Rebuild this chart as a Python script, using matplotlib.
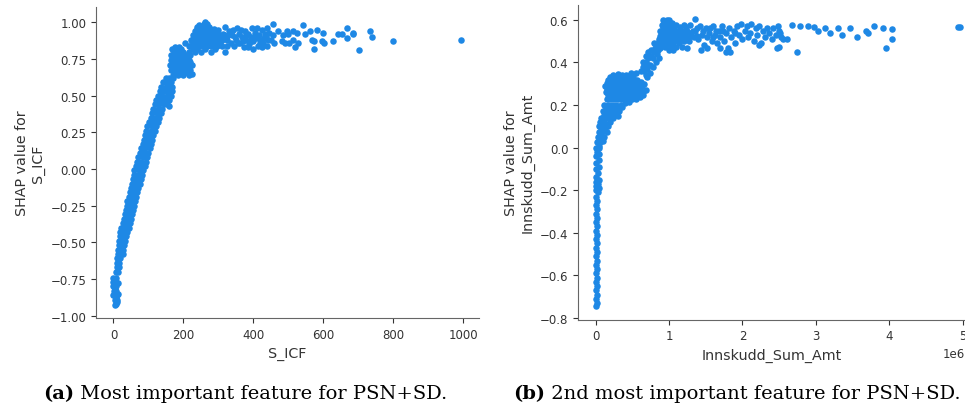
import numpy as np
from matplotlib import pyplot as plt

# S_ICF dependence points (x = S_ICF, y = SHAP value)
icf_bottom = [(0,-0.74),(6,-0.74),(0,-0.77),(7,-0.77),(1,-0.80),(8,-0.80),(1,-0.83),(8,-0.83),
              (2,-0.86),(9,-0.86),(3,-0.89),(10,-0.89),(6,-0.92),(10,-0.91),(12,-0.85),(12,-0.78),
              (-2,-0.80),(-2,-0.86),(4,-0.93),(4,-0.76),(5,-0.82),(6,-0.88)]
icf_rise = [(8,-0.70),(14,-0.70),(9,-0.67),(16,-0.67),(10,-0.64),(17,-0.64),(11,-0.61),(19,-0.61),
            (12,-0.58),(20,-0.58),(26,-0.58),(13,-0.55),(21,-0.55),(28,-0.55),(15,-0.52),(23,-0.52),(30,-0.52),
            (16,-0.49),(25,-0.49),(33,-0.49),(18,-0.46),(27,-0.46),(36,-0.46),(19,-0.43),(29,-0.43),(39,-0.43),
            (22,-0.40),(32,-0.40),(43,-0.40),(26,-0.37),(35,-0.37),(46,-0.37),(30,-0.34),(39,-0.34),(49,-0.34),
            (33,-0.31),(42,-0.31),(52,-0.31),(36,-0.28),(45,-0.28),(55,-0.28),(38,-0.25),(48,-0.25),(58,-0.25),
            (40,-0.22),(50,-0.22),(62,-0.22),(43,-0.19),(53,-0.19),(64,-0.19),(46,-0.16),(56,-0.16),(67,-0.16),
            (50,-0.13),(60,-0.13),(71,-0.13),(53,-0.10),(63,-0.10),(75,-0.10),(56,-0.07),(66,-0.07),(78,-0.07),
            (58,-0.04),(69,-0.04),(81,-0.04),(60,-0.01),(72,-0.01),(85,-0.01),(64,0.02),(76,0.02),(89,0.02),
            (68,0.05),(80,0.05),(92,0.05),(71,0.08),(83,0.08),(95,0.08),(75,0.11),(87,0.11),(99,0.11),
            (79,0.14),(91,0.14),(103,0.14),(83,0.17),(95,0.17),(107,0.17),(87,0.20),(99,0.20),(110,0.20),
            (90,0.23),(102,0.23),(114,0.23),(93,0.26),(106,0.26),(118,0.26),(97,0.29),(110,0.29),(121,0.29),
            (101,0.32),(114,0.32),(126,0.32),(106,0.35),(119,0.35),(131,0.35),(111,0.38),(123,0.38),(135,0.38),
            (114,0.41),(127,0.41),(140,0.41),(118,0.44),(131,0.44),(145,0.44),(154,0.44),
            (122,0.47),(135,0.47),(148,0.47),(160,0.47),(127,0.50),(139,0.50),(152,0.50),(163,0.50),
            (132,0.53),(144,0.53),(156,0.53),(166,0.53),(137,0.56),(149,0.56),(160,0.56),(168,0.56),
            (142,0.59),(153,0.59),(163,0.59),(150,0.62),(160,0.62),(170,0.62),(160,0.43)]
icf_shoulder = [(170,0.64),(185,0.64),(200,0.64),(215,0.64),(225,0.65),
                (165,0.675),(178,0.675),(192,0.675),(206,0.675),(220,0.675),
                (162,0.71),(175,0.71),(188,0.71),(200,0.71),(212,0.71),(224,0.71),
                (163,0.745),(176,0.745),(189,0.745),(202,0.745),(215,0.745),
                (165,0.78),(178,0.78),(190,0.78),(204,0.78),(218,0.78),
                (168,0.815),(180,0.815),(192,0.815),(205,0.86),(215,0.84),(222,0.88),
                (177,0.66),(193,0.66),(208,0.66),(170,0.695),(184,0.695),(198,0.695),(212,0.695),
                (169,0.73),(182,0.73),(195,0.73),(208,0.73),(220,0.73),(171,0.765),(184,0.765),
                (197,0.765),(210,0.765),(172,0.80),(186,0.80),(200,0.80),(175,0.83),(188,0.83)]
icf_plateau = [(215,0.80),(232,0.80),(250,0.80),
               (220,0.84),(232,0.84),(244,0.84),(256,0.84),(268,0.84),(280,0.84),(295,0.84),(310,0.84),
               (225,0.88),(237,0.88),(249,0.88),(261,0.88),(273,0.88),(285,0.88),(297,0.88),(310,0.88),(325,0.88),
               (228,0.91),(240,0.91),(252,0.91),(264,0.91),(276,0.91),(288,0.91),(300,0.91),(315,0.91),
               (232,0.94),(244,0.94),(256,0.94),(268,0.94),(280,0.94),(292,0.94),
               (238,0.97),(250,0.97),(262,0.97),(274,0.97),(262,1.00),(258,0.99),(245,0.98),
               (226,0.82),(238,0.82),(262,0.82),(226,0.86),(238,0.86),(250,0.86),(262,0.86),(274,0.86),
               (286,0.86),(300,0.86),(231,0.895),(243,0.895),(255,0.895),(267,0.895),(279,0.895),
               (291,0.895),(304,0.895),(236,0.925),(248,0.925),(260,0.925),(272,0.925),(284,0.925),
               (296,0.925),(240,0.955),(252,0.955),(264,0.955),(276,0.955),(288,0.955),(268,0.985)]
icf_spread = [(305,0.86),(312,0.92),(318,0.80),(322,0.89),(330,0.94),(335,0.86),(340,0.91),(345,0.84),
              (350,0.88),(352,0.96),(358,0.92),(362,0.86),(368,0.90),(372,0.83),(376,0.94),(380,0.88),
              (384,0.92),(388,0.85),(392,0.90),(396,0.96),(400,0.87),(404,0.93),(408,0.89),(412,0.84),
              (416,0.91),(420,0.88),(424,0.95),(428,0.86),(432,0.92),(436,0.90),(440,0.84),(445,0.93),
              (450,0.88),(455,0.99),(460,0.86),(325,0.84),(342,0.95),(365,0.95),(385,0.83),(398,0.82),
              (410,0.96),(426,0.83),(438,0.96),(318,0.97),(300,0.95),(290,0.82),(280,0.80),
              (328,0.91),(347,0.90),(355,0.86),(370,0.87),(378,0.91),(394,0.87),(402,0.90),(418,0.86),
              (430,0.89),(442,0.88)]
icf_tail = [(469,0.94),(481,0.87),(500,0.92),(503,0.86),(514,0.88),(519,0.83),(526,0.93),(541,0.98),
            (548,0.92),(562,0.94),(572,0.87),(574,0.82),(581,0.95),(600,0.93),(602,0.86),(628,0.87),
            (643,0.92),(667,0.96),(667,0.89),(684,0.92),(703,0.81),(733,0.94),(738,0.90),(800,0.87),
            (993,0.88),(457,0.91),(486,0.91),(491,0.86),(497,0.94),(512,0.94),(528,0.86),(567,0.88),
            (595,0.87),(652,0.92),(686,0.93)]

# Innskudd_Sum_Amt dependence points (x in units of 1e6)
amt_column = [(0.005,-0.745),(0.015,-0.73),(0.005,-0.71),(0.015,-0.69),(0.005,-0.67),(0.015,-0.65),
              (0.005,-0.63),(0.015,-0.61),(0.005,-0.59),(0.015,-0.57),(0.005,-0.55),(0.015,-0.53),
              (0.005,-0.51),(0.015,-0.49),(0.005,-0.47),(0.015,-0.45),(0.005,-0.43),(0.015,-0.41),
              (0.005,-0.39),(0.015,-0.37),(0.005,-0.35),(0.015,-0.33),(0.005,-0.31),(0.02,-0.29),
              (0.005,-0.27),(0.025,-0.25),(0.005,-0.23),(0.03,-0.21),(0.005,-0.20),(0.04,-0.19),
              (0.005,-0.18),(0.03,-0.17),(0.005,-0.16),(0.04,-0.15),(0.01,-0.14),(0.03,-0.12),
              (0.01,-0.10),(0.04,-0.09),(0.01,-0.07),(0.045,-0.06),(0.01,-0.04),(0.05,-0.03),
              (0.015,-0.02),(0.04,0.0)]
amt_lower = [(0.01,0.0),(0.05,0.01),(0.02,0.025),(0.06,0.025),(0.10,0.03),(0.03,0.05),(0.08,0.05),
             (0.12,0.05),(0.04,0.075),(0.09,0.075),(0.15,0.075),(0.05,0.10),(0.10,0.10),(0.17,0.10),
             (0.06,0.12),(0.12,0.12),(0.19,0.12),
             (0.08,0.14),(0.13,0.14),(0.18,0.14),(0.24,0.14),(0.30,0.15),
             (0.10,0.17),(0.15,0.17),(0.20,0.17),(0.26,0.17),(0.32,0.17),
             (0.12,0.20),(0.17,0.20),(0.22,0.20),(0.28,0.20),(0.34,0.20),(0.40,0.21),(0.46,0.215),
             (0.07,0.085),(0.13,0.09),(0.09,0.11),(0.15,0.11),(0.11,0.155),(0.16,0.155),(0.22,0.155),
             (0.27,0.155),(0.14,0.185),(0.19,0.185),(0.24,0.185),(0.30,0.185),(0.36,0.19)]
amt_blob = [(0.15,0.23),(0.20,0.23),(0.25,0.23),(0.30,0.23),(0.35,0.23),(0.40,0.23),(0.45,0.23),
            (0.50,0.23),(0.55,0.23),(0.60,0.24),(0.65,0.245),
            (0.14,0.26),(0.19,0.26),(0.24,0.26),(0.29,0.26),(0.34,0.26),(0.39,0.26),(0.44,0.26),
            (0.49,0.26),(0.54,0.26),(0.59,0.26),(0.64,0.26),(0.68,0.27),
            (0.13,0.29),(0.18,0.29),(0.23,0.29),(0.28,0.29),(0.33,0.29),(0.38,0.29),(0.43,0.29),
            (0.48,0.29),(0.53,0.29),(0.58,0.29),(0.63,0.29),
            (0.17,0.32),(0.22,0.32),(0.27,0.32),(0.32,0.32),(0.37,0.32),(0.42,0.32),(0.47,0.32),
            (0.52,0.32),(0.57,0.32),(0.62,0.31),
            (0.24,0.34),(0.30,0.345),(0.36,0.34),(0.42,0.34),(0.48,0.35),(0.55,0.35),
            (0.17,0.245),(0.22,0.245),(0.27,0.245),(0.32,0.245),(0.37,0.245),(0.42,0.245),(0.47,0.245),
            (0.52,0.245),(0.57,0.245),(0.16,0.275),(0.21,0.275),(0.26,0.275),(0.31,0.275),(0.36,0.275),
            (0.41,0.275),(0.46,0.275),(0.51,0.275),(0.56,0.275),(0.61,0.275),(0.15,0.305),(0.20,0.305),
            (0.25,0.305),(0.30,0.305),(0.35,0.305),(0.40,0.305),(0.45,0.305),(0.50,0.305),(0.55,0.305),
            (0.60,0.305),(0.20,0.33),(0.26,0.33),(0.33,0.33),(0.39,0.33),(0.45,0.33),(0.51,0.33)]
amt_step = [(0.66,0.30),(0.70,0.33),(0.62,0.36),(0.66,0.36),(0.70,0.37),(0.65,0.40),(0.69,0.40),
            (0.72,0.42),(0.68,0.43),(0.74,0.39),(0.78,0.38),(0.78,0.42),(0.80,0.45),(0.76,0.46),
            (0.83,0.44),(0.84,0.48),(0.80,0.49),(0.86,0.51),(0.88,0.47),(0.82,0.40),(0.86,0.42),
            (0.74,0.35),(0.72,0.45),(0.68,0.34),(0.64,0.38),(0.71,0.39),(0.75,0.43),(0.81,0.47),(0.85,0.46)]
amt_plateau = [(0.92,0.60),(0.97,0.60),(1.00,0.60),
               (0.90,0.575),(0.95,0.575),(1.00,0.575),(1.05,0.575),(1.10,0.575),(1.20,0.575),(1.28,0.575),
               (0.88,0.55),(0.93,0.55),(0.98,0.55),(1.03,0.55),(1.08,0.55),(1.13,0.55),(1.18,0.55),(1.25,0.55),(1.32,0.55),
               (0.87,0.525),(0.92,0.525),(0.97,0.525),(1.02,0.525),(1.07,0.525),(1.12,0.525),(1.17,0.525),(1.22,0.525),(1.30,0.525),(1.38,0.525),
               (0.86,0.50),(0.91,0.50),(0.96,0.50),(1.01,0.50),(1.06,0.50),(1.12,0.50),(1.20,0.50),(1.27,0.50),
               (0.88,0.475),(0.95,0.475),(1.02,0.475),(1.10,0.475),(1.18,0.475),(1.00,0.46),(1.05,0.46),(1.36,0.605),
               (0.93,0.5875),(0.98,0.5875),(1.04,0.585),(0.92,0.5625),(0.97,0.5625),(1.02,0.5625),(1.07,0.5625),
               (1.15,0.565),(1.23,0.565),(0.90,0.5375),(0.95,0.5375),(1.00,0.5375),(1.05,0.5375),(1.10,0.5375),
               (1.15,0.5375),(1.20,0.54),(1.28,0.54),(0.89,0.5125),(0.94,0.5125),(0.99,0.5125),(1.04,0.5125),
               (1.09,0.5125),(1.15,0.515),(1.24,0.515),(0.90,0.4875),(0.98,0.4875),(1.05,0.49),(1.14,0.49)]
amt_spread = [(1.35,0.55),(1.40,0.51),(1.42,0.57),(1.45,0.53),(1.48,0.48),(1.50,0.56),(1.52,0.52),
              (1.55,0.54),(1.58,0.50),(1.60,0.57),(1.62,0.53),(1.65,0.49),(1.68,0.55),(1.70,0.52),
              (1.72,0.57),(1.75,0.50),(1.78,0.54),(1.80,0.47),(1.82,0.56),(1.85,0.52),(1.88,0.55),
              (1.90,0.49),(1.92,0.57),(1.95,0.53),(1.98,0.58),(2.00,0.51),(2.03,0.55),(2.06,0.57),
              (2.08,0.52),(2.10,0.54),(2.12,0.58),(2.15,0.50),(2.18,0.56),(2.20,0.53),(2.22,0.57),
              (2.25,0.49),(2.28,0.55),(2.30,0.52),(2.33,0.56),(2.36,0.54),(2.40,0.51),(2.42,0.56),
              (2.45,0.53),(2.48,0.57),(2.50,0.55),(2.52,0.52),(2.55,0.51),(2.60,0.51),(1.44,0.46),
              (1.77,0.45),(1.52,0.47),(1.25,0.47),(1.70,0.47),(2.50,0.475),(2.23,0.48),(1.83,0.45),
              (2.51,0.54),(2.47,0.47),(1.38,0.56),(1.46,0.55),(1.56,0.56),(1.64,0.55),(1.74,0.55),
              (1.60,0.52),(1.90,0.54),(1.34,0.52)]
amt_tail = [(2.67,0.576),(2.78,0.57),(2.89,0.57),(2.98,0.565),(3.03,0.55),(3.12,0.56),(3.19,0.54),
            (3.30,0.56),(3.35,0.53),(3.47,0.56),(3.56,0.52),(3.68,0.55),(3.71,0.54),(3.79,0.57),
            (3.92,0.56),(3.96,0.47),(4.03,0.555),(4.03,0.51),(2.74,0.45),(4.94,0.565),(4.96,0.565)]

panels = [
    (icf_bottom + icf_rise + icf_shoulder + icf_plateau + icf_spread + icf_tail,
     "S_ICF", (-50, 1045), (-1.016, 1.104), [0, 200, 400, 600, 800, 1000], 1.0),
    (amt_column + amt_lower + amt_blob + amt_step + amt_plateau + amt_spread + amt_tail,
     "Innskudd_Sum_Amt", (-0.24e6, 5.03e6), (-0.808, 0.670), [0, 1e6, 2e6, 3e6, 4e6, 5e6], 1e6),
]
captions = [("(a)", " Most important feature for PSN+SD."),
            ("(b)", " 2nd most important feature for PSN+SD.")]

axis_color = "#333333"
fig = plt.figure(figsize=(9.65, 4.1), dpi=100)
boxes = [[96/965, 1-319/410, 383/965, 311/410],
         [578/965, 1-320.7/410, 387/965, 314.7/410]]

for i in range(2):
    pts, name, xl, yl, xt, scale = panels[i]
    xs = np.array([p[0] for p in pts]) * scale
    ys = np.array([p[1] for p in pts])
    ax = fig.add_axes(boxes[i])
    ax.scatter(xs, ys, s=22, color="#1E88E5", linewidths=0)
    ax.set_xlim(xl)
    ax.set_ylim(yl)
    ax.set_xticks(xt)
    ax.spines['right'].set_visible(False)
    ax.spines['top'].set_visible(False)
    ax.spines['left'].set_color('#666666')
    ax.spines['bottom'].set_color('#666666')
    ax.tick_params(color=axis_color, labelcolor=axis_color, labelsize=8.5)
    ax.set_xlabel(name, fontsize=10.3, color=axis_color)
    ax.set_ylabel("SHAP value for\n" + name, fontsize=10.3, color=axis_color)
    ax.xaxis.get_offset_text().set_fontsize(8.5)
    ax.xaxis.get_offset_text().set_color(axis_color)

cap_x = [43/965, 513/965]
for i in range(2):
    t = fig.text(cap_x[i], 0.04, captions[i][0], family='DejaVu Serif', fontweight='bold',
                 fontsize=14, va='center', ha='left')
    plt.annotate(captions[i][1], xy=(1, 0.5), xycoords=t, va='center', ha='left',
                 family='DejaVu Serif', fontsize=14, annotation_clip=False)

plt.savefig('out.png', dpi=100)
